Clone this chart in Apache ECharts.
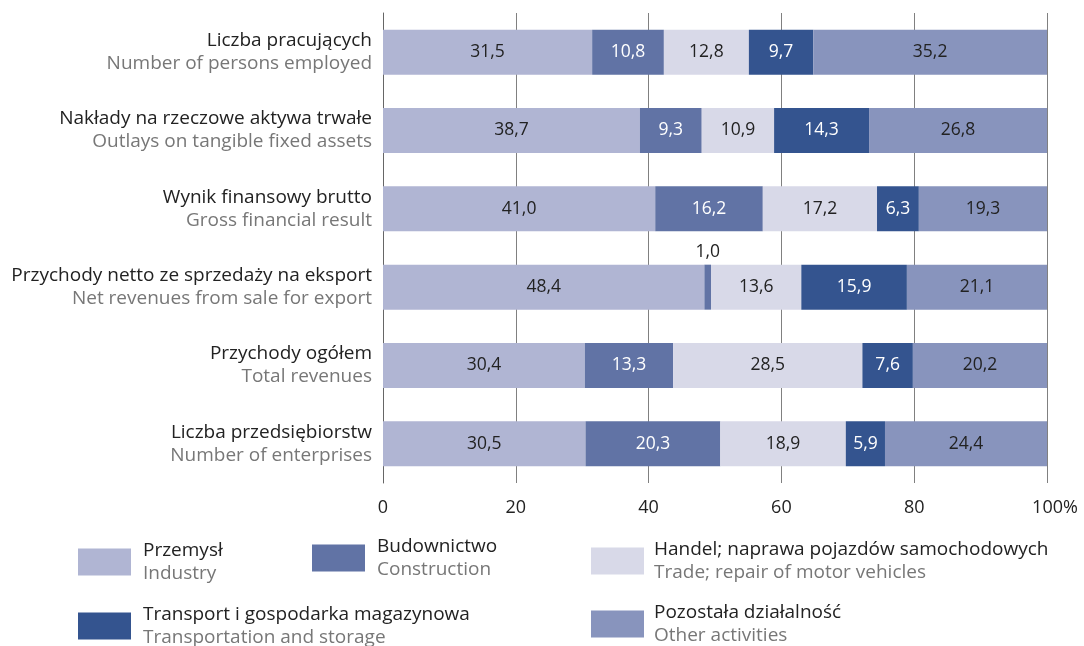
<!DOCTYPE html>
<html>
<head>
<meta charset="utf-8">
<script src="https://cdn.jsdelivr.net/npm/echarts@6/dist/echarts.min.js"></script>
<style>html,body{margin:0;padding:0;background:#fff}#c{width:1084px;height:646px}</style>
</head>
<body>
<div id="c"></div>
<script>
const categoriesPL = ['Liczba pracujących','Nakłady na rzeczowe aktywa trwałe','Wynik finansowy brutto','Przychody netto ze sprzedaży na eksport','Przychody ogółem','Liczba przedsiębiorstw'];
const categoriesEN = ['Number of persons employed','Outlays on tangible fixed assets','Gross financial result','Net revenues from sale for export','Total revenues','Number of enterprises'];
const seriesPL = ['Przemysł','Budownictwo','Handel; naprawa pojazdów samochodowych','Transport i gospodarka magazynowa','Pozostała działalność'];
const seriesEN = ['Industry','Construction','Trade; repair of motor vehicles','Transportation and storage','Other activities'];
const industry     = [31.5, 38.7, 41.0, 48.4, 30.4, 30.5];
const construction = [10.8,  9.3, 16.2,  1.0, 13.3, 20.3];
const trade        = [12.8, 10.9, 17.2, 13.6, 28.5, 18.9];
const transport    = [ 9.7, 14.3,  6.3, 15.9,  7.6,  5.9];
const other        = [35.2, 26.8, 19.3, 21.1, 20.2, 24.4];
const xTicks = ['0','20','40','60','80','100%'];

const values = [industry, construction, trade, transport, other];
const colors = ['#b0b5d3','#6173a5','#d8d9e8','#34548f','#8894bd'];
const labelColors = ['#222','#fff','#222','#fff','#222'];
const FONT = '"Open Sans", "Noto Sans", sans-serif';
const NARROW = '"Liberation Sans Narrow", "Open Sans", sans-serif';
const fmt = v => v.toFixed(1).replace('.', ',');

const series = values.map((arr, i) => ({
  name: seriesPL[i],
  type: 'bar',
  stack: 'total',
  barWidth: 45,
  itemStyle: { color: colors[i] },
  label: { show: true, position: 'inside', color: labelColors[i], fontFamily: NARROW, fontSize: 17.5,
           formatter: p => fmt(p.value) },
  data: arr.map(v => v < 3 ? { value: v, label: { position: 'top', color: '#222', distance: 4 } } : v)
}));

const legendPos = [
  { left: 78, top: 541, gap: 7 },
  { left: 312, top: 537, gap: 7 },
  { left: 591, top: 540, gap: 5 },
  { left: 78, top: 605, gap: 7 },
  { left: 591, top: 603, gap: 5 }
];
const legends = legendPos.map((p, i) => ({
  data: [seriesPL[i]],
  left: p.left, top: p.top, padding: 0,
  itemWidth: 53, itemHeight: 27, itemGap: 0,
  icon: 'rect',
  selectedMode: false,
  formatter: n => '{a|' + n + '}\n{b|' + seriesEN[seriesPL.indexOf(n)] + '}',
  textStyle: { rich: {
    a: { fontFamily: FONT, fontSize: 19, color: '#222', lineHeight: 23, padding: [0,0,0,p.gap] },
    b: { fontFamily: FONT, fontSize: 19, color: '#777', lineHeight: 23, padding: [0,0,0,p.gap] }
  } }
}));

const chart = echarts.init(document.getElementById('c'), null, { renderer: 'canvas' });
chart.setOption({
  animation: false,
  backgroundColor: '#fff',
  grid: { left: 383, right: 37, top: 13, height: 470 },
  xAxis: {
    type: 'value', min: 0, max: 100, interval: 20,
    axisLine: { show: false }, axisTick: { show: false },
    splitLine: { show: true, lineStyle: { color: '#808080', width: 1 } },
    axisLabel: { fontFamily: FONT, fontSize: 18, color: '#222', margin: 16,
                 formatter: (v) => {
                   const t = xTicks[Math.round(v / 20)];
                   return t.endsWith('%') ? '{p|' + t + '}' : t;
                 },
                 rich: { p: { fontFamily: FONT, fontSize: 18, color: '#222', padding: [0,0,0,16] } } }
  },
  yAxis: {
    type: 'category', inverse: true, data: categoriesPL,
    axisLine: { show: true, lineStyle: { color: '#666', width: 1 } },
    axisTick: { show: false },
    axisLabel: {
      margin: 11, align: 'right',
      formatter: (v) => '{a|' + v + '}\n{b|' + categoriesEN[categoriesPL.indexOf(v)] + '}',
      rich: {
        a: { fontFamily: FONT, fontSize: 19, color: '#222', lineHeight: 23, align: 'right' },
        b: { fontFamily: FONT, fontSize: 19, color: '#777', lineHeight: 23, align: 'right' }
      }
    }
  },
  legend: legends,
  series: series
});
</script>
</body>
</html>
